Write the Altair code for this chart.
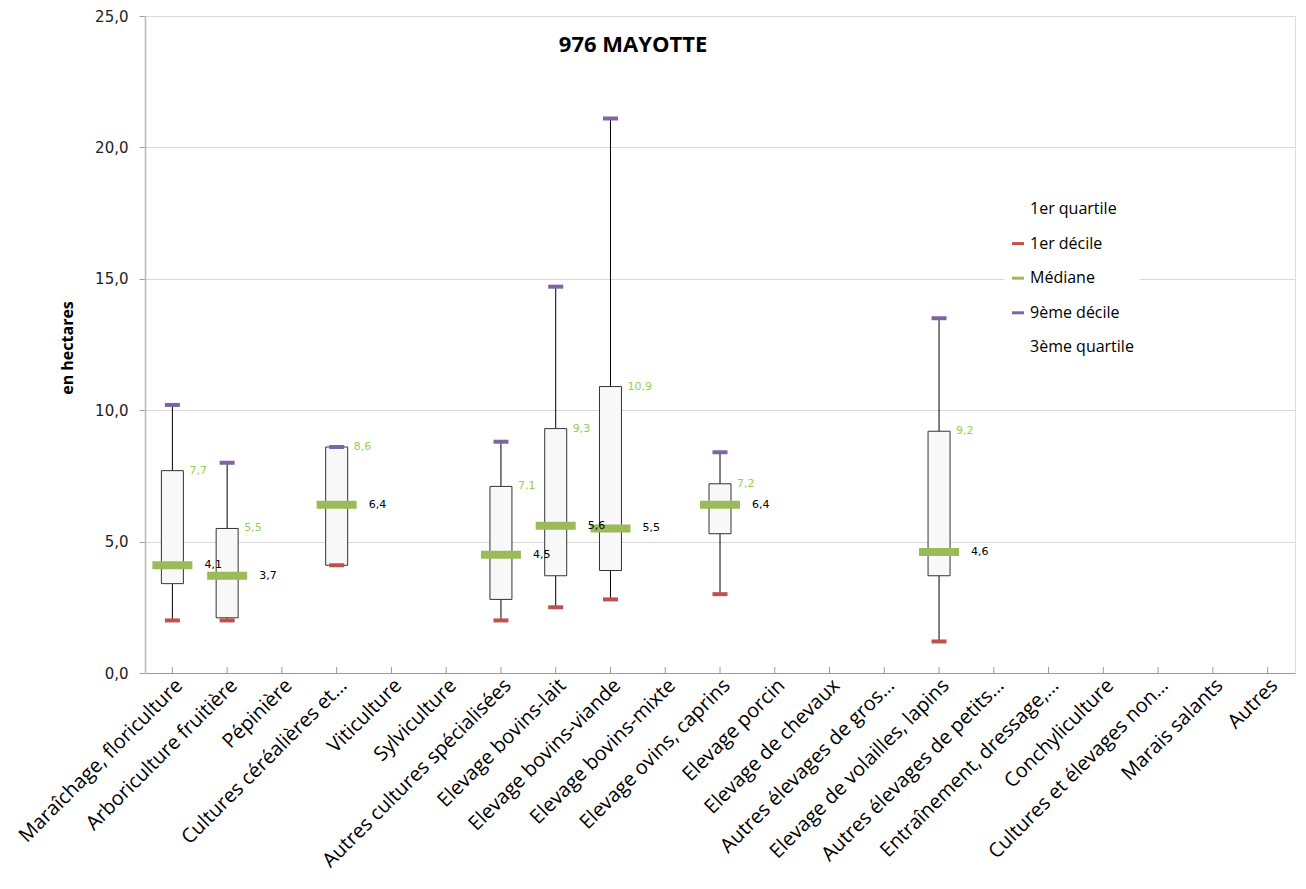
import altair as alt
import pandas as pd

TITLE = "976 MAYOTTE"
Y_TITLE = "en hectares"

categories = [
    "Maraîchage, floriculture", "Arboriculture fruitière", "Pépinière",
    "Cultures céréalières et…", "Viticulture", "Sylviculture",
    "Autres cultures spécialisées", "Elevage bovins-lait", "Elevage bovins-viande",
    "Elevage bovins-mixte", "Elevage ovins, caprins", "Elevage porcin",
    "Elevage de chevaux", "Autres élevages de gros…", "Elevage de volailles, lapins",
    "Autres élevages de petits…", "Entraînement, dressage,…", "Conchyliculture",
    "Cultures et élevages non…", "Marais salants", "Autres",
]

# values per category (None = no data)
d1  = [2.0, 2.0, None, 4.1, None, None, 2.0, 2.5, 2.8, None, 3.0, None, None, None, 1.2, None, None, None, None, None, None]
q1  = [3.4, 2.1, None, 4.1, None, None, 2.8, 3.7, 3.9, None, 5.3, None, None, None, 3.7, None, None, None, None, None, None]
med = [4.1, 3.7, None, 6.4, None, None, 4.5, 5.6, 5.5, None, 6.4, None, None, None, 4.6, None, None, None, None, None, None]
q3  = [7.7, 5.5, None, 8.6, None, None, 7.1, 9.3, 10.9, None, 7.2, None, None, None, 9.2, None, None, None, None, None, None]
d9  = [10.2, 8.0, None, 8.6, None, None, 8.8, 14.7, 21.1, None, 8.4, None, None, None, 13.5, None, None, None, None, None, None]

legend_labels = ["1er quartile", "1er décile", "Médiane", "9ème décile", "3ème quartile"]
legend_colors = ["#FFFFFF", "#C0504D", "#9BBB59", "#8064A2", "#FFFFFF"]

df = pd.DataFrame({"cat": categories, "d1": d1, "q1": q1, "med": med, "q3": q3, "d9": d9})
df = df.dropna().reset_index(drop=True)
df["q3_lbl"] = df["q3"].map(lambda v: f"{v:.1f}".replace(".", ","))
df["med_lbl"] = df["med"].map(lambda v: f"{v:.1f}".replace(".", ","))

dec = pd.concat([
    pd.DataFrame({"cat": df["cat"], "v": df["d1"], "stat": "1er décile"}),
    pd.DataFrame({"cat": df["cat"], "v": df["d9"], "stat": "9ème décile"}),
])
meddf = pd.DataFrame({"cat": df["cat"], "v": df["med"], "stat": "Médiane"})
catdf = pd.DataFrame({"cat": categories})

W, H = 1150, 657

xenc = alt.X("cat:N", sort=categories,
             scale=alt.Scale(domain=categories, paddingInner=0, paddingOuter=0),
             axis=alt.Axis(title=None, labelAngle=-45, labelAlign="right", labelBaseline="middle",
                           labelFont="Open Sans", labelFontSize=20, labelColor="#000000",
                           labelPadding=9, labelOffset=7, ticks=False,
                           domainColor="#9A9A9A", domainWidth=1,
                           grid=False, labelOverlap=False, labelLimit=400))

yscale = alt.Scale(domain=[0, 25], nice=False)
yaxis = alt.Axis(title=None, values=[0, 5, 10, 15, 20, 25],
                 labelExpr="replace(format(datum.value, '.1f'), '.', ',')",
                 labelFont="DejaVu Sans", labelFontSize=15, labelColor="#222222",
                 labelPadding=11, tickSize=6, tickColor="#A0A0A0",
                 domainColor="#B8B8B8", domainWidth=1.5,
                 grid=True, gridColor="#D9D9D9", gridWidth=1)

color = alt.Color("stat:N",
                  scale=alt.Scale(domain=legend_labels, range=legend_colors),
                  legend=alt.Legend(title=None, orient="none", legendX=859, legendY=179,
                                    symbolType="M-1,-0.25H1V0.25H-1Z", symbolSize=144,
                                    symbolStrokeWidth=0, labelFont="Open Sans",
                                    labelFontSize=16, labelColor="#000000", labelOffset=4,
                                    rowPadding=18.6, padding=6, fillColor="#FFFFFF",
                                    values=legend_labels))

base_y = alt.Y("v:Q", scale=yscale, axis=yaxis)

whisk = alt.Chart(df).mark_rule(color="#000000", strokeWidth=1).encode(
    x=xenc, y=alt.Y("d1:Q", scale=yscale, axis=yaxis), y2="d9:Q")

box = alt.Chart(df).mark_bar(size=22, fill="#F8F8F8", stroke="#333333", strokeWidth=1).encode(
    x=xenc, y=alt.Y("q1:Q", scale=yscale, axis=yaxis), y2="q3:Q")

dect = alt.Chart(dec).mark_tick(size=15, thickness=4, opacity=1).encode(
    x=xenc, y=base_y, color=color)

medt = alt.Chart(meddf).mark_tick(size=40, thickness=8, opacity=1).encode(
    x=xenc, y=base_y, color=color)

q3txt = alt.Chart(df).mark_text(align="left", baseline="middle", dx=17,
                                font="DejaVu Sans", fontSize=11, color="#92D050").encode(
    x=xenc, y=alt.Y("q3:Q", scale=yscale, axis=yaxis), text="q3_lbl:N")

medtxt = alt.Chart(df).mark_text(align="left", baseline="middle", dx=32,
                                 font="DejaVu Sans", fontSize=11, color="#000000").encode(
    x=xenc, y=alt.Y("med:Q", scale=yscale, axis=yaxis), text="med_lbl:N")

xticks = alt.Chart(catdf).mark_rule(color="#9A9A9A", strokeWidth=1).encode(
    x=xenc, y=alt.value(H - 6), y2=alt.value(H))

title = alt.Chart(pd.DataFrame({"t": [TITLE]})).mark_text(
    font="Open Sans", fontWeight="bold", fontSize=22, color="#000000",
    align="center", baseline="middle").encode(
    text="t:N", x=alt.value(633 - 145), y=alt.value(45 - 16))

ytitle = alt.Chart(pd.DataFrame({"t": [Y_TITLE]})).mark_text(
    font="Open Sans", fontWeight="bold", fontSize=16, color="#000000",
    align="center", baseline="middle", angle=270).encode(
    text="t:N", x=alt.value(68 - 145), y=alt.value(348 - 16))

chart = alt.layer(whisk, box, dect, medt, q3txt, medtxt, xticks, title, ytitle).properties(
    width=W, height=H,
    autosize=alt.AutoSizeParams(type="none"),
    padding={"left": 137, "top": 8, "right": 1, "bottom": 204},
).configure_view(stroke=None).configure(background="white")

chart.save("out.html", embed_options={"renderer": "svg", "actions": False})
